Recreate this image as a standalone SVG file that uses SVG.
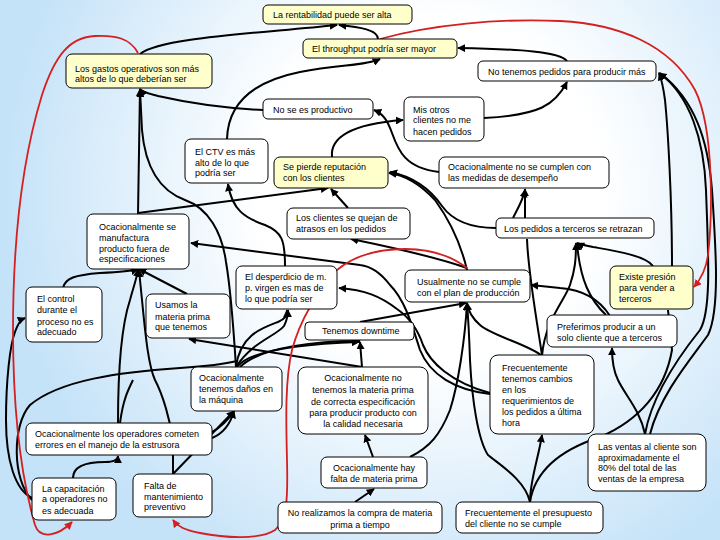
<svg xmlns="http://www.w3.org/2000/svg" width="720" height="540" viewBox="0 0 720 540">
<defs>
<radialGradient id="bg" gradientUnits="userSpaceOnUse" cx="430" cy="190" r="430">
<stop offset="0" stop-color="#ffffff"/>
<stop offset="0.4" stop-color="#ffffff"/>
<stop offset="1" stop-color="#c4e2f8"/>
</radialGradient>
<marker id="ah" viewBox="0 0 10 10" refX="9" refY="5" markerWidth="8" markerHeight="8" markerUnits="userSpaceOnUse" orient="auto"><path d="M0,0 L10,5 L0,10 z" fill="#000"/></marker>
<marker id="ar" viewBox="0 0 10 10" refX="9" refY="5" markerWidth="8" markerHeight="8" markerUnits="userSpaceOnUse" orient="auto"><path d="M0,0 L10,5 L0,10 z" fill="#d42020"/></marker>
</defs>
<style>
.b{stroke:#000;stroke-width:1;}
.w{fill:#ffffff;}
.y{fill:#ffffcc;}
text{font-family:"Liberation Sans",Arial,sans-serif;font-size:9px;fill:#000;}
.m{text-anchor:middle;}
.c path{fill:none;stroke:#000;stroke-width:2;}
.c path.a{marker-end:url(#ah);}
.c path.r{stroke:#d42020;stroke-width:1.8;marker-end:url(#ar);}
</style>
<rect x="0" y="0" width="720" height="540" fill="url(#bg)"/>
<g id="connectors" class="c">
<path class="a" d="M140,54 C160,38 250,34 337,25"/>
<path class="a" d="M378,39 C378,30 360,27 339,25"/>
<path class="a" d="M227,139 C228,105 250,82 300,72 C340,64 365,66 380,59"/>
<path class="a" d="M567,61 C560,52 520,49 458,48"/>
<path class="a" d="M484,118 C540,115 555,105 567,82"/>
<path class="a" d="M332,157 C330,138 350,124 403,120"/>
<path class="a" d="M439,172 C405,168 398,150 392,133 C388,122 384,114 374,110"/>
<path class="a" d="M263,110 C220,108 180,101 158,96 C147,93 142,92 140,89"/>
<path class="a" d="M138,214 L140,89"/>
<path class="a" d="M138,213 L328,188"/>
<path class="a" d="M236,367 C233,320 230,285 226,262 C222,232 208,208 185,200 C158,190 145,165 142,130 L140,90"/>
<path class="a" d="M285,266 C285,240 282,232 265,225 C245,218 232,210 228,184"/>
<path class="a" d="M348,208 L331,189"/>
<path class="a" d="M467,270 C460,240 448,218 435,200 C420,184 405,175 389,173"/>
<path class="a" d="M496,228 C470,228 452,220 442,206 C428,186 410,176 390,172"/>
<path class="a" d="M525,218 L525,189"/>
<path class="a" d="M513,218 C518,208 523,200 525,190"/>
<path class="a" d="M467,268 C430,255 380,245 351,239"/>
<path class="a" d="M490,394 C455,390 430,375 420,350 C412,325 405,300 390,285 C380,272 370,266 360,265 L191,243"/>
<path class="a" d="M490,393 C450,382 430,362 423,345 C418,330 410,318 397,309 C380,296 365,290 339,288"/>
<path class="a" d="M360,322 L466,303"/>
<path class="a" d="M410,457 C430,447 440,435 450,410 C458,385 465,340 467,303"/>
<path class="a" d="M530,502 C525,480 500,465 488,455 C478,440 472,400 470,360 C469,330 468,315 467,303"/>
<path class="a" d="M542,356 C530,345 490,335 480,325 C472,318 468,310 467,303"/>
<path class="a" d="M542,356 C545,320 565,300 570,285 C575,270 576,260 576,243"/>
<path class="a" d="M606,315 C590,300 580,280 577,243"/>
<path class="a" d="M653,266 C645,255 610,250 593,247 C583,245 579,244 577,243"/>
<path d="M527,239 C528,270 535,310 542,355"/>
<path class="a" d="M610,316 C600,300 585,290 560,288 L531,285"/>
<path class="a" d="M645,434 C640,410 625,395 618,380 C613,370 612,360 612,348"/>
<path d="M530,502 C535,470 560,450 600,437 C640,420 665,390 672,350 L668,310"/>
<path class="a" d="M672,266 C672,200 668,130 665,100 C663,85 661,78 659,73"/>
<path class="a" d="M645,434 C652,395 680,355 700,330 C712,310 708,250 706,190 C704,140 690,95 659,73"/>
<path d="M650,434 C660,395 690,360 708,335 C720,310 716,250 712,190 C708,140 695,100 660,73"/>
<path class="a" d="M237,367 C250,350 300,344 359,342"/>
<path class="a" d="M240,367 C262,346 320,341 360,341"/>
<path class="a" d="M362,367 L360,342"/>
<path class="a" d="M362,367 L189,339"/>
<path class="a" d="M236,367 C240,335 262,328 278,322 C285,319 287,316 287,310"/>
<path class="a" d="M236,367 C252,342 276,336 284,326 C287,320 288,315 288,310"/>
<path class="a" d="M63,288 C65,278 75,275 100,273 C120,272 132,271 138,269"/>
<path class="a" d="M187,294 L139,269"/>
<path class="a" d="M118,423 C118,380 120,330 130,300 C134,285 137,278 138,269"/>
<path d="M120,423 C123,400 128,390 133,380"/>
<path class="a" d="M173,474 L173,440 C170,420 163,395 155,380 C148,365 145,330 142,300 L139,270"/>
<path class="a" d="M173,474 L234,411"/>
<path class="a" d="M212,438 C222,434 230,425 234,411"/>
<path d="M212,432 C220,428 228,420 234,411"/>
<path class="a" d="M73,478 C73,465 90,462 105,462 C115,462 118,460 118,456"/>
<path class="a" d="M32,498 C15,490 6,460 6,420 C6,380 10,345 15,332 C18,324 20,320 25,318"/>
<path d="M32,500 C12,480 12,425 30,405 C60,380 120,372 180,368 C210,366 225,364 237,361"/>
<path class="a" d="M373,457 L365,435"/>
<path class="a" d="M355,502 L374,489"/>
<path class="a" d="M530,502 C530,480 538,460 542,435"/>
<path class="r" d="M138,53 C130,38 115,35 95,36 C70,37 55,55 42,95 C25,150 13,230 13,330 C13,420 22,480 35,525 C40,540 58,536 72,522"/>
<path class="r" d="M467,268 C450,255 430,249 405,249 C380,249 355,255 337,270 C318,290 300,320 292,350 C285,380 286,420 287,460 C288,500 287,520 275,530 C260,540 225,538 200,533 C185,530 178,527 173,520"/>
<path class="r" d="M380,39 C430,25 500,18 560,21 C620,24 670,45 695,90 C715,130 712,220 708,255 C706,270 700,280 694,287"/>
</g>
<g id="n1"><rect class="b y" x="263" y="5" width="149" height="19" rx="5"/><text x="273" y="18">La rentabilidad puede ser alta</text></g>
<g id="n2"><rect class="b y" x="303" y="39" width="154" height="19" rx="5"/><text x="312" y="52">El throughput podría ser mayor</text></g>
<g id="n3"><rect class="b y" x="66" y="54" width="146" height="34" rx="6"/><text x="75" y="71.5">Los gastos operativos son más</text><text x="75" y="81.5">altos de lo que deberían ser</text></g>
<g id="n4"><rect class="b w" x="478" y="61" width="178" height="20" rx="5"/><text x="488" y="74.5">No tenemos pedidos para producir más</text></g>
<g id="n5"><rect class="b w" x="263" y="99" width="110" height="20" rx="5"/><text x="273" y="113">No se es productivo</text></g>
<g id="n6"><rect class="b w" x="404" y="97" width="80" height="44" rx="6"/><text x="413" y="112.5">Mis otros</text><text x="413" y="123">clientes no me</text><text x="413" y="134.5">hacen pedidos</text></g>
<g id="n7"><rect class="b w" x="185" y="139" width="83" height="44" rx="6"/><text x="195" y="155">El CTV  es más</text><text x="195" y="166">alto de lo que</text><text x="195" y="176">podría ser</text></g>
<g id="n8"><rect class="b y" x="274" y="157" width="114" height="31" rx="6"/><text x="283" y="170">Se pierde reputación</text><text x="283" y="181">con los clientes</text></g>
<g id="n9"><rect class="b w" x="439" y="157" width="170" height="31" rx="6"/><text x="448" y="170">Ocacionalmente no se cumplen con</text><text x="448" y="181">las medidas de desempeño</text></g>
<g id="n10"><rect class="b w" x="287" y="208" width="123" height="31" rx="6"/><text x="296" y="221">Los clientes se quejan de</text><text x="296" y="232">atrasos en los pedidos</text></g>
<g id="n11"><rect class="b w" x="496" y="218" width="158" height="20" rx="5"/><text x="504" y="232">Los pedidos a terceros se retrazan</text></g>
<g id="n12"><rect class="b w" x="87" y="214" width="102" height="55" rx="6"/><text x="99" y="230">Ocacionalmente se</text><text x="99" y="241">manufactura</text><text x="99" y="251.5">producto fuera de</text><text x="99" y="262">especificaciones</text></g>
<g id="n13"><rect class="b w" x="236" y="266" width="101" height="43" rx="6"/><text x="245" y="280">El desperdicio de m.</text><text x="245" y="291">p. virgen es mas de</text><text x="245" y="302">lo que podría ser</text></g>
<g id="n14"><rect class="b w" x="405" y="270" width="125" height="32" rx="6"/><text x="417" y="285">Usualmente no se cumple</text><text x="417" y="295.5">con el plan de producción</text></g>
<g id="n15"><rect class="b y" x="610" y="266" width="83" height="43" rx="6"/><text x="619" y="280">Existe presión</text><text x="619" y="291">para vender a</text><text x="619" y="302">terceros</text></g>
<g id="n16"><rect class="b w" x="26" y="287" width="76" height="55" rx="6"/><text x="37" y="302">El control</text><text x="37" y="313">durante el</text><text x="37" y="325">proceso no es</text><text x="37" y="335">adecuado</text></g>
<g id="n17"><rect class="b w" x="146" y="294" width="84" height="44" rx="6"/><text x="155" y="308">Usamos la</text><text x="155" y="320">materia prima</text><text x="155" y="330">que tenemos</text></g>
<g id="n18"><rect class="b w" x="305" y="322" width="109" height="18" rx="4"/><text x="322" y="334">Tenemos downtime</text></g>
<g id="n19"><rect class="b w" x="547" y="315" width="130" height="32" rx="6"/><text x="557" y="330">Preferimos producir a un</text><text x="557" y="340.5">solo cliente que a terceros</text></g>
<g id="n20"><rect class="b w" x="191" y="367" width="91" height="44" rx="6"/><text x="199" y="381">Ocacionalmente</text><text x="199" y="392">tenemos daños en</text><text x="199" y="403">la máquina</text></g>
<g id="n21"><rect class="b w" x="298" y="367" width="130" height="67" rx="8"/><text class="m" x="363" y="381">Ocacionalmente no</text><text class="m" x="363" y="393">tenemos la materia prima</text><text class="m" x="363" y="405">de correcta especificación</text><text class="m" x="363" y="416">para producir producto con</text><text class="m" x="363" y="426.5">la calidad necesaria</text></g>
<g id="n22"><rect class="b w" x="490" y="355" width="104" height="79" rx="8"/><text x="502" y="371">Frecuentemente</text><text x="502" y="382">tenemos cambios</text><text x="502" y="393">en los</text><text x="502" y="404">requerimientos de</text><text x="502" y="415">los pedidos a última</text><text x="502" y="426">hora</text></g>
<g id="n23"><rect class="b w" x="26" y="423" width="186" height="32" rx="6"/><text x="35" y="437">Ocacionalmente los operadores cometen</text><text x="35" y="447.5">errores en el manejo de la estrusora</text></g>
<g id="n24"><rect class="b w" x="588" y="434" width="118" height="57" rx="8"/><text x="598" y="450">Las ventas al cliente son</text><text x="598" y="461">aproximadamente el</text><text x="598" y="471">80% del total de las</text><text x="598" y="481.5">ventas de la empresa</text></g>
<g id="n25"><rect class="b w" x="321" y="457" width="106" height="31" rx="6"/><text class="m" x="374" y="471">Ocacionalmente hay</text><text class="m" x="374" y="481.5">falta de materia prima</text></g>
<g id="n26"><rect class="b w" x="32" y="478" width="84" height="42" rx="6"/><text x="42" y="492">La capacitación</text><text x="42" y="502">a operadores no</text><text x="42" y="514">es adecuada</text></g>
<g id="n27"><rect class="b w" x="133" y="474" width="79" height="43" rx="6"/><text x="144" y="489">Falta de</text><text x="144" y="500">mantenimiento</text><text x="144" y="510">preventivo</text></g>
<g id="n28"><rect class="b w" x="278" y="502" width="164" height="31" rx="6"/><text class="m" x="360" y="516">No realizamos la compra de materia</text><text class="m" x="360" y="527.5">prima a tiempo</text></g>
<g id="n29"><rect class="b w" x="456" y="502" width="147" height="31" rx="6"/><text x="465" y="516">Frecuentemente el presupuesto</text><text x="465" y="527">del cliente no se cumple</text></g>
</svg>
